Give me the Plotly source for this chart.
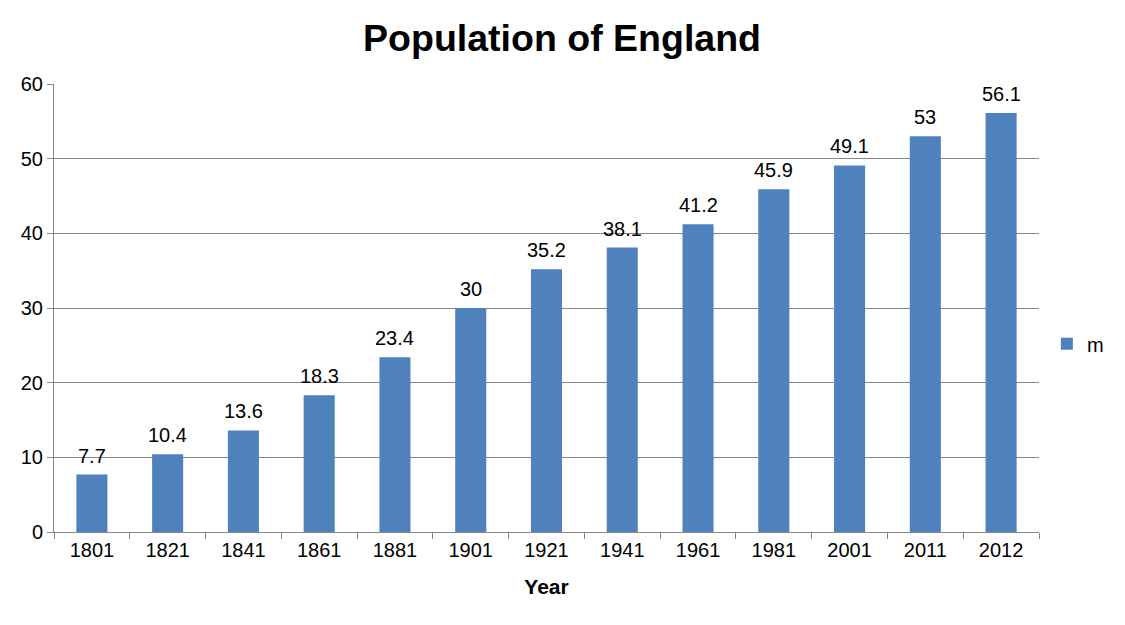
import plotly.graph_objects as go

# Census years (as category labels) and population in millions
years = ["1801", "1821", "1841", "1861", "1881", "1901", "1921",
         "1941", "1961", "1981", "2001", "2011", "2012"]
population = [7.7, 10.4, 13.6, 18.3, 23.4, 30, 35.2, 38.1, 41.2, 45.9, 49.1, 53, 56.1]
y_ticks = [0, 10, 20, 30, 40, 50, 60]

FONT = "Liberation Sans, Arial, sans-serif"

fig = go.Figure()
fig.add_trace(go.Bar(
    x=years,
    y=population,
    name="m",
    marker=dict(color="#4f81bd", line=dict(width=0)),
))

# value labels sit a little higher above the bars than plotly's own outside text
# (numeric-looking category names would be read as indices, so use the index)
for i, v in enumerate(population):
    fig.add_annotation(
        x=i, y=v, text=f"{v:g}",
        showarrow=False, yanchor="bottom", yshift=6,
        font=dict(family=FONT, size=20, color="#000000"),
    )

# page has an 8px body margin, so the figure is sized/positioned to suit
fig.update_layout(
    width=1117,
    height=609,
    paper_bgcolor="white",
    plot_bgcolor="white",
    font=dict(family=FONT, size=20, color="#000000"),
    title=dict(
        text="<b>Population of England</b>",
        x=0.496, xanchor="center", xref="container",
        y=0.951, yanchor="middle",
        font=dict(size=37.5, color="#000000"),
    ),
    margin=dict(l=46, r=86, t=76, b=85),
    bargap=0.59,
    showlegend=True,
    legend=dict(
        x=1.008, xanchor="left",
        y=0.42, yanchor="middle",
        font=dict(size=20),
        itemwidth=30,
    ),
    xaxis=dict(
        type="category",
        range=[-0.5, len(years) - 0.5],
        automargin=False,
        showline=True, linecolor="#868686", linewidth=1,
        ticks="outside", tickson="boundaries", ticklen=6, tickcolor="#868686",
        showgrid=False,
        title=dict(text="<b>Year</b>", font=dict(size=21), standoff=19),
    ),
    yaxis=dict(
        range=[0, 60],
        tickvals=y_ticks,
        automargin=False,
        showline=True, linecolor="#868686", linewidth=1,
        ticks="outside", ticklen=6, tickcolor="#868686",
        showgrid=True, gridcolor="#868686", gridwidth=1,
        zeroline=False,
    ),
)

fig.write_html("out.html")
